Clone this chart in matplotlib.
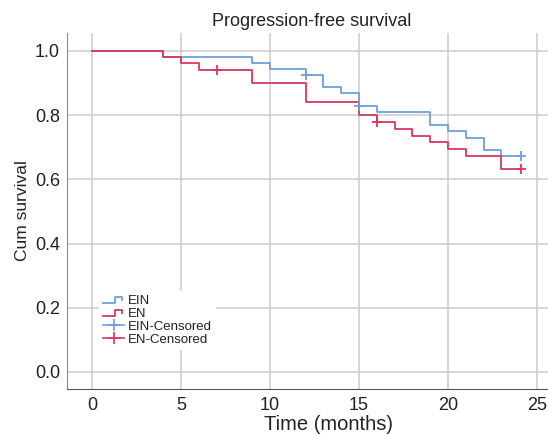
import matplotlib
matplotlib.use("Agg")
import matplotlib.pyplot as plt
from matplotlib.legend_handler import HandlerBase
from matplotlib.lines import Line2D

plt.rcParams["font.family"] = ["Liberation Sans", "DejaVu Sans"]

# Kaplan-Meier step curves (time in months, cumulative survival)
ein_times = [0, 4, 9, 10, 12, 13, 14, 15, 16, 19, 20, 21, 22, 23]
ein_surv = [1.0, 0.981, 0.962, 0.943, 0.925, 0.887, 0.868, 0.830, 0.811,
            0.770, 0.751, 0.730, 0.692, 0.673]
ein_end = 24.1
ein_cens_t = [12, 15, 24.1]
ein_cens_s = [0.925, 0.830, 0.673]

en_times = [0, 4, 5, 6, 9, 12, 15, 16, 17, 18, 19, 20, 21, 23]
en_surv = [1.0, 0.981, 0.962, 0.941, 0.901, 0.840, 0.799, 0.779, 0.757,
           0.736, 0.715, 0.694, 0.673, 0.631]
en_end = 24.1
en_cens_t = [7, 16, 24.1]
en_cens_s = [0.941, 0.779, 0.631]

blue = "#6f9fdc"
red = "#d8385c"


class StepHandler(HandlerBase):
    def create_artists(self, legend, orig, xd, yd, w, h, fontsize, trans):
        xs = [0, 0.55 * w, 0.55 * w, 0.9 * w, 0.9 * w]
        ys = [0.15 * h, 0.15 * h, 0.75 * h, 0.75 * h, 0.45 * h]
        ln = Line2D([x - xd for x in xs], [y - yd for y in ys],
                    color=orig.get_color(), lw=1.3)
        ln.set_transform(trans)
        return [ln]


fig = plt.figure(figsize=(5.48, 4.34), dpi=100)
ax = fig.add_axes([67 / 548, 45 / 434, 506 / 548, 356 / 434])

ax.step(ein_times + [ein_end], ein_surv + [ein_surv[-1]], where="post",
        color=blue, lw=1.3)
ax.step(en_times + [en_end], en_surv + [en_surv[-1]], where="post",
        color=red, lw=1.3)
ax.plot(ein_cens_t, ein_cens_s, ls="none", marker="+", ms=7, mew=1.3, color=blue)
ax.plot(en_cens_t, en_cens_s, ls="none", marker="+", ms=7, mew=1.3, color=red)

ax.set_xlim(-1.4, 27.02)
ax.set_ylim(-0.053, 1.056)
ax.set_xticks([0, 5, 10, 15, 20, 25])
ax.set_yticks([0.0, 0.2, 0.4, 0.6, 0.8, 1.0])
ax.set_yticklabels(["0.0", "0.2", "0.4", "0.6", "0.8", "1.0"])
ax.tick_params(length=0, labelsize=13, colors="#222222")
ax.tick_params(axis="y", pad=5)
ax.tick_params(axis="x", pad=6)
ax.grid(True, color="#cccccc", lw=1.1)
ax.set_axisbelow(True)
for side in ["top", "right"]:
    ax.spines[side].set_visible(False)
ax.spines["left"].set_color("#8a8a8a")
ax.spines["bottom"].set_color("#555555")

fig.text(312 / 548, 1 - 21 / 434, "Progression-free survival", ha="center",
         va="center", fontsize=13, color="#222222")
fig.text(329 / 548, 1 - 424 / 434, "Time (months)", ha="center",
         va="center", fontsize=14.5, color="#222222")
fig.text(23 / 548, 1 - 211 / 434, "Cum survival", ha="center",
         va="center", rotation=90, fontsize=12.5, color="#222222")

h_ein = Line2D([], [], color=blue)
h_en = Line2D([], [], color=red)
h_ein_c = Line2D([], [], color=blue, marker="+", ms=9, mew=1.2, lw=1.2)
h_en_c = Line2D([], [], color=red, marker="+", ms=9, mew=1.2, lw=1.2)
leg = ax.legend([h_ein, h_en, h_ein_c, h_en_c],
                ["EIN", "EN", "EIN-Censored", "EN-Censored"],
                handler_map={h_ein: StepHandler(), h_en: StepHandler()},
                loc="upper left", bbox_to_anchor=(32 / 506, 1 - 258 / 356),
                frameon=True, fontsize=9.5, handlelength=1.6, handletextpad=0.3,
                labelspacing=0.05, borderpad=0.3, borderaxespad=0)
leg.get_frame().set_edgecolor("none")
leg.get_frame().set_facecolor("white")
leg.get_frame().set_alpha(1)
for t in leg.get_texts():
    t.set_color("#222222")

fig.savefig("out.png", dpi=100)
